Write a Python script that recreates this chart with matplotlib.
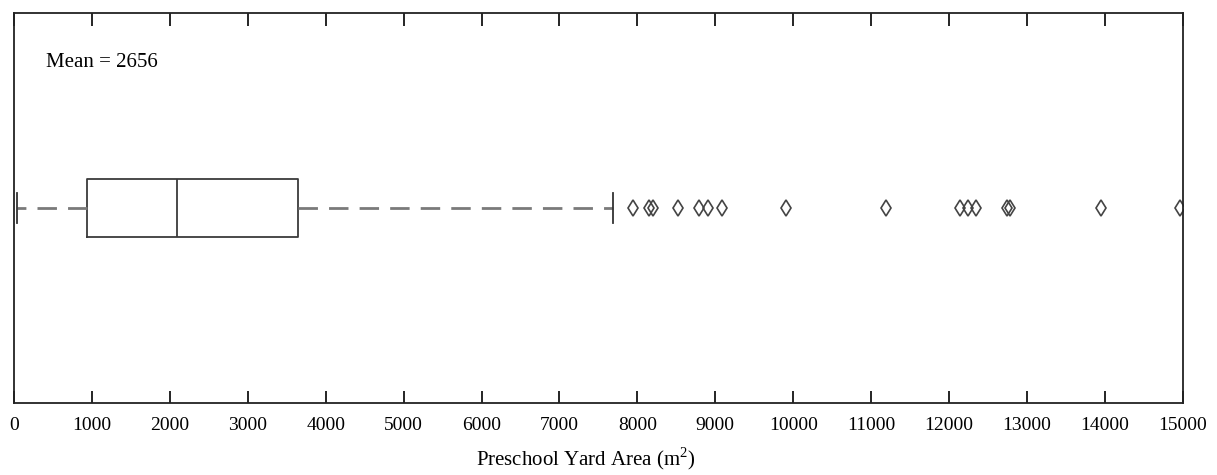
import matplotlib
matplotlib.use("Agg")
import matplotlib.pyplot as plt

# Box plot summary (m^2)
q1, median, q3 = 937, 2092, 3646
whisker_low, whisker_high = 40, 7690
mean_area = 2656
outliers = [7946, 8150, 8195, 8524, 8786, 8906, 9083, 9901, 11185,
            12139, 12244, 12348, 12741, 12778, 13946, 14960]
xticks = list(range(0, 15001, 1000))

plt.rcParams['font.family'] = ['Liberation Serif', 'DejaVu Serif']
plt.rcParams['mathtext.fontset'] = 'custom'
plt.rcParams['mathtext.rm'] = 'Liberation Serif'

fig = plt.figure(figsize=(12.17, 4.75), dpi=100)
ax = fig.add_axes([0.0115, 0.1516, 0.9605, 0.821])

stats = [dict(med=median, q1=q1, q3=q3, whislo=whisker_low,
              whishi=whisker_high, fliers=outliers, mean=mean_area)]
ax.bxp(stats, positions=[1], widths=0.149, vert=False, capwidths=0.075,
       showfliers=True, showmeans=False,
       boxprops=dict(color='#3a3a3a', linewidth=1.3),
       medianprops=dict(color='#3a3a3a', linewidth=1.3),
       whiskerprops=dict(color='#7a7a7a', linewidth=2.0, linestyle=(0, (7, 4))),
       capprops=dict(color='#333333', linewidth=1.3),
       flierprops=dict(marker='d', markerfacecolor='none',
                       markeredgecolor='#444444', markersize=8,
                       markeredgewidth=1.2))

ax.set_xlim(0, 15000)
ax.set_ylim(0.5, 1.5)
ax.set_xticks(xticks)
ax.set_xticklabels([str(t) for t in xticks], fontsize=14)
ax.set_yticks([])
ax.tick_params(axis='x', direction='in', top=True, bottom=True,
               length=9, width=1.2, pad=10)
for sp in ax.spines.values():
    sp.set_linewidth(1.3)
    sp.set_color('#222222')

ax.text(0.027, 0.873, 'Mean = %d' % mean_area, transform=ax.transAxes,
        fontsize=15, va='center', ha='left')
ax.set_xlabel('Preschool Yard Area (m$^2$)', fontsize=15)
ax.xaxis.set_label_coords(0.489, -0.108)

fig.savefig('out.png', dpi=100)
